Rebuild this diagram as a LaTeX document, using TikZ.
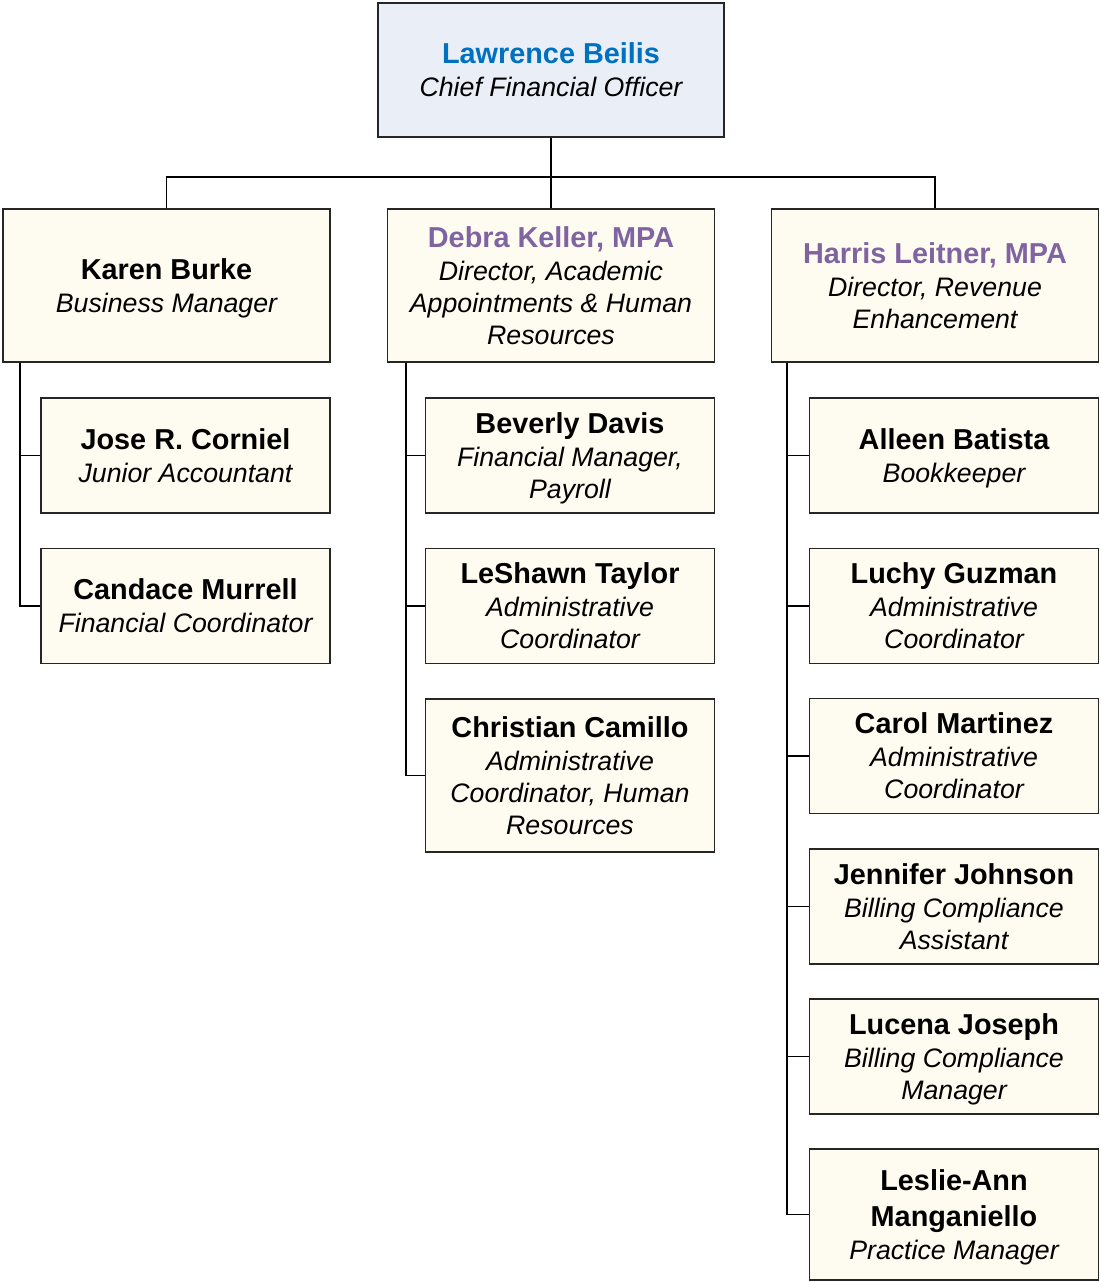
\documentclass[tikz,border=0pt]{standalone}
\usepackage{fontspec}
\setmainfont{Liberation Sans}
\definecolor{nameblue}{HTML}{0070C0}
\definecolor{namepurple}{HTML}{8064A2}
\definecolor{topfill}{HTML}{EAEFF7}
\definecolor{boxfill}{HTML}{FEFCF0}
\newcommand{\OrgName}[2][black]{{\fontsize{20.5}{22.7}\selectfont\bfseries\color{#1}\rule{0pt}{19.5pt}#2}}
\newcommand{\OrgRole}[1]{{\fontsize{19}{22.7}\selectfont\itshape\rule[-5pt]{0pt}{5pt}#1}}
\tikzset{
  orgbox/.style={draw=black!85, line width=0.9pt, fill=boxfill, rectangle, align=center,
    inner sep=2pt, font=\fontsize{19}{22.7}\selectfont},
  wide/.style={minimum width=8.175cm, minimum height=3.825cm},
  narrow/.style={minimum width=7.225cm, minimum height=2.875cm},
  link/.style={line width=1.3pt, black}
}
\begin{document}
\begin{tikzpicture}[x=0.025cm, y=-0.025cm]
\useasboundingbox (0,0) rectangle (1100,1282);
% top
\node[orgbox, fill=topfill, minimum width=8.65cm, minimum height=3.35cm] (cfo) at (551,70)
  {\OrgName[nameblue]{Lawrence Beilis}\\[0.9pt]\OrgRole{Chief Financial Officer}};
% level 2
\node[orgbox, wide] (karen) at (166.5,285.5)
  {\OrgName{Karen Burke}\\[0.9pt]\OrgRole{Business Manager}};
\node[orgbox, wide] (debra) at (551,285.5)
  {\OrgName[namepurple]{Debra Keller, MPA}\\[0.9pt]\OrgRole{Director, Academic}\\\OrgRole{Appointments \& Human}\\\OrgRole{Resources}};
\node[orgbox, wide] (harris) at (935,285.5)
  {\OrgName[namepurple]{Harris Leitner, MPA}\\[0.9pt]\OrgRole{Director, Revenue}\\\OrgRole{Enhancement}};
% Karen's staff
\node[orgbox, narrow] (jose) at (185.5,455.5)
  {\OrgName{Jose R. Corniel}\\[0.9pt]\OrgRole{Junior Accountant}};
\node[orgbox, narrow] (candace) at (185.5,606)
  {\OrgName{Candace Murrell}\\[0.9pt]\OrgRole{Financial Coordinator}};
% Debra's staff
\node[orgbox, narrow] (beverly) at (570,455.5)
  {\OrgName{Beverly Davis}\\[0.9pt]\OrgRole{Financial Manager,}\\\OrgRole{Payroll}};
\node[orgbox, narrow] (leshawn) at (570,606)
  {\OrgName{LeShawn Taylor}\\[0.9pt]\OrgRole{Administrative}\\\OrgRole{Coordinator}};
\node[orgbox, narrow, minimum height=3.825cm] (christian) at (570,775.5)
  {\OrgName{Christian Camillo}\\[0.9pt]\OrgRole{Administrative}\\\OrgRole{Coordinator, Human}\\\OrgRole{Resources}};
% Harris's staff
\node[orgbox, narrow] (alleen) at (954,455.5)
  {\OrgName{Alleen Batista}\\[0.9pt]\OrgRole{Bookkeeper}};
\node[orgbox, narrow] (luchy) at (954,606)
  {\OrgName{Luchy Guzman}\\[0.9pt]\OrgRole{Administrative}\\\OrgRole{Coordinator}};
\node[orgbox, narrow] (carol) at (954,756)
  {\OrgName{Carol Martinez}\\[0.9pt]\OrgRole{Administrative}\\\OrgRole{Coordinator}};
\node[orgbox, narrow] (jennifer) at (954,906.5)
  {\OrgName{Jennifer Johnson}\\[0.9pt]\OrgRole{Billing Compliance}\\\OrgRole{Assistant}};
\node[orgbox, narrow] (lucena) at (954,1056.5)
  {\OrgName{Lucena Joseph}\\[0.9pt]\OrgRole{Billing Compliance}\\\OrgRole{Manager}};
\node[orgbox, narrow, minimum height=3.275cm] (leslie) at (954,1214.5)
  {\OrgName{Leslie-Ann}\\[3.2pt]\OrgName{Manganiello}\\[0.5pt]\OrgRole{Practice Manager}};
% connectors
\draw[link] (cfo.south) -- (debra.north);
\draw[link] (karen.north) -- ++(0,-31) -| (harris.north);
\draw[link] ([xshift=0.45cm]karen.south west) |- (jose.west);
\draw[link] ([xshift=0.45cm]karen.south west) |- (candace.west);
\draw[link] ([xshift=0.475cm]debra.south west) |- (beverly.west);
\draw[link] ([xshift=0.475cm]debra.south west) |- (leshawn.west);
\draw[link] ([xshift=0.475cm]debra.south west) |- (christian.west);
\draw[link] ([xshift=0.4cm]harris.south west) |- (alleen.west);
\draw[link] ([xshift=0.4cm]harris.south west) |- (luchy.west);
\draw[link] ([xshift=0.4cm]harris.south west) |- (carol.west);
\draw[link] ([xshift=0.4cm]harris.south west) |- (jennifer.west);
\draw[link] ([xshift=0.4cm]harris.south west) |- (lucena.west);
\draw[link] ([xshift=0.4cm]harris.south west) |- (leslie.west);
\end{tikzpicture}
\end{document}
